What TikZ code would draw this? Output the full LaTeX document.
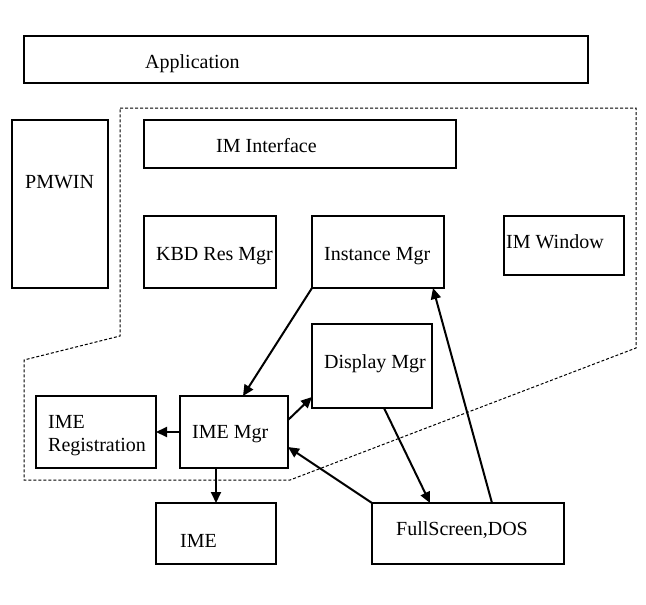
\documentclass[tikz,border=0pt]{standalone}
\usepackage{fontspec}
\setmainfont{Liberation Serif}
\usetikzlibrary{arrows.meta}
\begin{document}
\begin{tikzpicture}[x=1pt,y=-1pt,
 box/.style={draw,line width=2pt,inner sep=0pt,outer sep=0pt,anchor=north west},
 lbl/.style={anchor=base west,inner sep=0pt,font=\fontsize{20}{23}\selectfont},
 conn/.style={line width=2pt,-{Triangle[length=11pt,width=10pt]}},
 region/.style={draw,line width=1pt,dash pattern=on 3pt off 2pt}]
\useasboundingbox (0,0) rectangle (646,605);
% dotted region
\draw[region] (120,108) -- (636,108) -- (636,348) -- (290,480) -- (24,480) -- (24,360) -- (120,336) -- cycle;
% boxes
\node[box,minimum width=564pt,minimum height=47pt] (app) at (24,36) {};
\node[box,minimum width=96pt,minimum height=168pt] (pm) at (12,120) {};
\node[box,minimum width=312pt,minimum height=48pt] (imi) at (144,120) {};
\node[box,minimum width=132pt,minimum height=72pt] (kbd) at (144,216) {};
\node[box,minimum width=132pt,minimum height=72pt] (inst) at (312,216) {};
\node[box,minimum width=120pt,minimum height=59pt] (imw) at (504,216) {};
\node[box,minimum width=120pt,minimum height=84pt] (disp) at (312,324) {};
\node[box,minimum width=108pt,minimum height=72pt] (imemgr) at (180,396) {};
\node[box,minimum width=120pt,minimum height=72pt] (reg) at (36,396) {};
\node[box,minimum width=120pt,minimum height=61pt] (ime) at (156,503) {};
\node[box,minimum width=192pt,minimum height=61pt] (fs) at (372,503) {};
% labels
\node[lbl] (appT) at (145,68) {Application};
\node[lbl] (pmT) at (25,188) {PMWIN};
\node[lbl] (imiT) at (216,152) {IM Interface};
\node[lbl] (kbdT) at (156,260) {KBD Res Mgr};
\node[lbl] (instT) at (324,260) {Instance Mgr};
\node[lbl] (imwT) at (506,248) {IM Window};
\node[lbl] (dispT) at (324,368) {Display Mgr};
\node[lbl] (regT1) at (48,428) {IME};
\node[lbl] (regT2) at (48,451) {Registration};
\node[lbl] (imemgrT) at (192,438) {IME Mgr};
\node[lbl] (imeT) at (180,547) {IME};
\node[lbl] (fsT) at (396,535) {FullScreen,DOS};
% connectors
\draw[conn] (inst.south west) -- ([xshift=9pt]imemgr.north);
\draw[conn] ([yshift=12pt]imemgr.east) -- ([yshift=11pt]disp.south west);
\draw[conn] (imemgr.west) -- (reg.east);
\draw[conn] (imemgr.south -| ime.north) -- (ime.north);
\draw[conn] ([xshift=12pt]disp.south) -- ([xshift=-38pt]fs.north);
\draw[conn] (fs.north west) -- ([yshift=-15pt]imemgr.east);
\draw[conn] ([xshift=24pt]fs.north) -- ([xshift=55pt]inst.south);
\end{tikzpicture}
\end{document}
